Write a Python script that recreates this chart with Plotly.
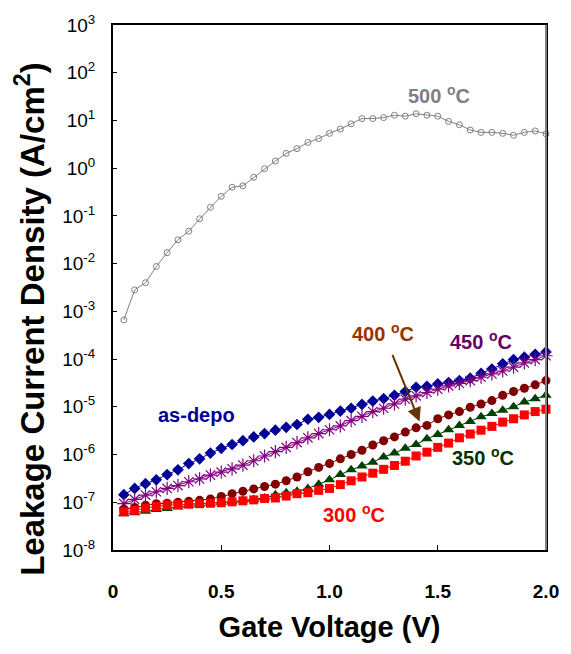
import plotly.graph_objects as go

voltage = [round(0.05 * (i + 1), 2) for i in range(40)]

log_500 = [-3.18, -2.55, -2.40, -2.06, -1.77, -1.50, -1.32, -1.06, -0.82, -0.59,
           -0.40, -0.37, -0.19, -0.01, 0.15, 0.31, 0.41, 0.54, 0.62, 0.73,
           0.82, 0.93, 1.04, 1.04, 1.06, 1.11, 1.09, 1.14, 1.11, 1.09,
           0.98, 0.91, 0.80, 0.75, 0.75, 0.73, 0.69, 0.75, 0.78, 0.72]
log_asdepo = [-6.84, -6.71, -6.61, -6.53, -6.42, -6.32, -6.19, -6.09, -5.97, -5.87,
              -5.79, -5.71, -5.63, -5.56, -5.49, -5.43, -5.37, -5.26, -5.22, -5.16,
              -5.09, -5.03, -4.95, -4.88, -4.83, -4.76, -4.68, -4.59, -4.57, -4.52,
              -4.49, -4.45, -4.40, -4.30, -4.21, -4.10, -4.01, -3.96, -3.90, -3.85]
log_450 = [-7.03, -6.94, -6.85, -6.78, -6.71, -6.65, -6.57, -6.51, -6.43, -6.37,
           -6.30, -6.22, -6.13, -6.03, -5.94, -5.85, -5.75, -5.65, -5.56, -5.48,
           -5.40, -5.29, -5.20, -5.10, -5.03, -4.94, -4.84, -4.77, -4.70, -4.63,
           -4.56, -4.51, -4.45, -4.38, -4.31, -4.25, -4.17, -4.08, -4.01, -3.93]
log_400 = [-7.15, -7.11, -7.06, -7.03, -7.02, -7.00, -6.98, -6.96, -6.93, -6.88,
           -6.82, -6.77, -6.72, -6.67, -6.62, -6.55, -6.47, -6.36, -6.27, -6.19,
           -6.09, -6.00, -5.91, -5.80, -5.71, -5.63, -5.53, -5.44, -5.39, -5.25,
           -5.17, -5.10, -5.01, -4.94, -4.87, -4.76, -4.68, -4.61, -4.54, -4.45]
log_350 = [-7.24, -7.22, -7.19, -7.15, -7.13, -7.10, -7.07, -7.04, -7.02, -7.00,
           -6.99, -6.96, -6.94, -6.91, -6.84, -6.80, -6.77, -6.71, -6.62, -6.53,
           -6.42, -6.32, -6.24, -6.16, -6.05, -5.97, -5.87, -5.79, -5.67, -5.58,
           -5.48, -5.39, -5.31, -5.21, -5.14, -5.07, -5.00, -4.90, -4.83, -4.76]
log_300 = [-7.20, -7.17, -7.12, -7.09, -7.06, -7.05, -7.04, -7.03, -7.02, -7.01,
           -6.99, -6.97, -6.95, -6.92, -6.91, -6.87, -6.82, -6.80, -6.75, -6.71,
           -6.63, -6.55, -6.47, -6.39, -6.31, -6.23, -6.14, -6.03, -5.95, -5.85,
           -5.76, -5.65, -5.57, -5.49, -5.41, -5.32, -5.25, -5.17, -5.10, -5.05]

y_tick_exps = list(range(-8, 4))
x_tick_vals = [0, 0.5, 1.0, 1.5, 2.0]
x_tick_text = ["0", "0.5", "1.0", "1.5", "2.0"]

FONT = "Arial, Liberation Sans, sans-serif"

series = [
    ("500 °C", log_500, dict(symbol="circle-open", size=6, color="#808080",
                             line=dict(width=1, color="#808080")), "#808080"),
    ("as-depo", log_asdepo, dict(symbol="diamond", size=9, color="#000099"), "#000099"),
    ("450 °C", log_450, dict(symbol="asterisk-open", size=11, color="#800080",
                             line=dict(width=1.2, color="#800080")), "#800080"),
    ("400 °C", log_400, dict(symbol="circle", size=9, color="#800000"), "#800000"),
    ("350 °C", log_350, dict(symbol="triangle-up", size=10, color="#004000"), "#004000"),
    ("300 °C", log_300, dict(symbol="square", size=9, color="#FF0000"), "#FF0000"),
]

fig = go.Figure()
for name, logs, marker, lc in series:
    fig.add_trace(go.Scatter(
        x=voltage, y=[10 ** v for v in logs], mode="lines+markers",
        name=name, marker=marker, line=dict(color=lc, width=1),
        showlegend=False, cliponaxis=False))

# annotation y positions are given in log10 units (log axis)
labels = [
    ("500 <sup>o</sup>C", 1.507, 1.55, "#808080"),
    ("400 <sup>o</sup>C", 1.247, -3.45, "#993300"),
    ("450 <sup>o</sup>C", 1.70, -3.61, "#660066"),
    ("as-depo", 0.384, -5.18, "#000099"),
    ("350 <sup>o</sup>C", 1.71, -6.05, "#003300"),
    ("300 <sup>o</sup>C", 1.115, -7.23, "#FF0000"),
]
for text, x, y, c in labels:
    fig.add_annotation(x=x, y=y, yref="y", xref="x", text=f"<b>{text}</b>",
                       showarrow=False, font=dict(family=FONT, size=20, color=c))

# arrow from 400 °C label to its curve
fig.add_annotation(x=1.416, y=-5.31, ax=1.288, ay=-3.88,
                   xref="x", yref="y", axref="x", ayref="y", text="",
                   showarrow=True, arrowhead=2, arrowsize=1.4, arrowwidth=2,
                   arrowcolor="#663300")

# y-axis title
fig.add_annotation(x=-0.192, y=0.44, xref="paper", yref="paper",
                   text="<b>Leakage Current Density (A/cm<sup>2</sup>)</b>",
                   textangle=-90, showarrow=False, xanchor="center", yanchor="middle",
                   font=dict(family=FONT, size=33, color="black"))

fig.update_xaxes(
    range=[0, 2], tickvals=x_tick_vals, ticktext=[f"<b>{t}</b>" for t in x_tick_text],
    ticks="inside", ticklen=5, tickwidth=1, tickcolor="black",
    showline=True, linecolor="black", linewidth=2, mirror=True,
    showgrid=False, zeroline=False, ticklabelstandoff=23,
    tickfont=dict(family=FONT, size=19, color="black"),
    title=dict(text="<b>Gate Voltage (V)</b>", font=dict(family=FONT, size=29, color="black"),
               standoff=16),
)
fig.update_yaxes(
    type="log", range=[-8, 3],
    tickvals=[10 ** e for e in y_tick_exps],
    ticktext=[f"10<sup>{e}</sup>" for e in y_tick_exps],
    ticks="inside", ticklen=4, tickwidth=1, tickcolor="black",
    showline=True, linecolor="black", linewidth=2, mirror=True,
    showgrid=False, zeroline=False, ticklabelstandoff=12,
    tickfont=dict(family=FONT, size=19, color="black"),
)
fig.add_shape(type="line", xref="paper", yref="paper", x0=1, x1=1, y0=0, y1=1,
              line=dict(color="#808080", width=2), layer="above")

fig.update_layout(
    width=571, height=654,
    margin=dict(l=113, r=20, t=18, b=104),
    plot_bgcolor="white", paper_bgcolor="white",
    font=dict(family=FONT),
)

fig.write_html("out.html")
